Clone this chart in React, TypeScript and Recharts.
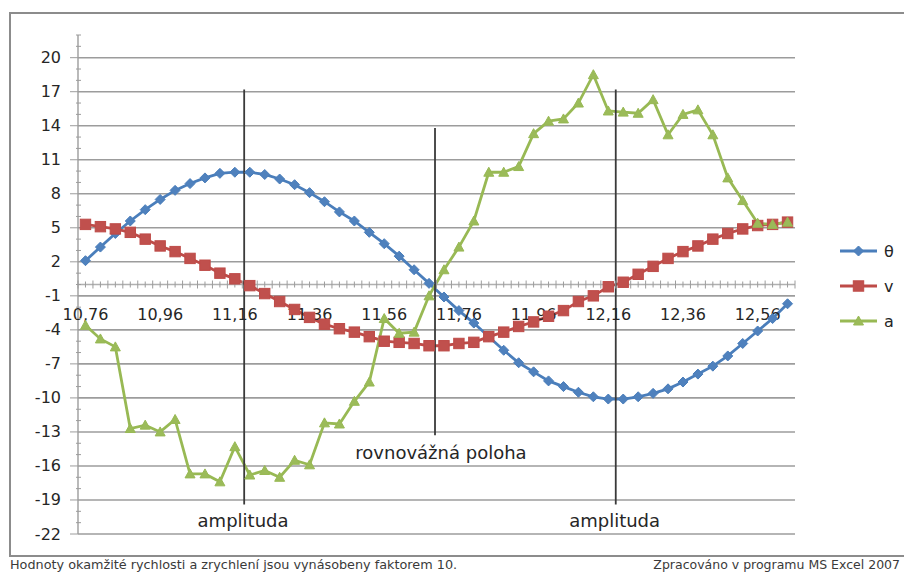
import React from 'react'
import { LineChart, Line, XAxis, YAxis, ReferenceLine, ReferenceDot } from 'recharts'

// time [s]
const TIME = [
  10.76, 10.8, 10.84, 10.88, 10.92, 10.96, 11, 11.04, 11.08, 11.12, 11.16, 11.2,
  11.24, 11.28, 11.32, 11.36, 11.4, 11.44, 11.48, 11.52, 11.56, 11.6, 11.64, 11.68,
  11.72, 11.76, 11.8, 11.84, 11.88, 11.92, 11.96, 12, 12.04, 12.08, 12.12, 12.16,
  12.2, 12.24, 12.28, 12.32, 12.36, 12.4, 12.44, 12.48, 12.52, 12.56, 12.6, 12.64,
]

// výchylka θ
const THETA = [
  2.1, 3.3, 4.5, 5.6, 6.6, 7.5, 8.3, 8.9, 9.4, 9.8, 9.9, 9.9,
  9.7, 9.3, 8.8, 8.1, 7.3, 6.4, 5.6, 4.6, 3.6, 2.5, 1.3, 0.1,
  -1.1, -2.3, -3.4, -4.6, -5.8, -6.9, -7.7, -8.5, -9.0, -9.5, -9.9, -10.1,
  -10.1, -9.9, -9.6, -9.2, -8.6, -7.9, -7.2, -6.3, -5.2, -4.1, -3.0, -1.7,
]

// rychlost v (x10)
const VELOCITY = [
  5.3, 5.1, 4.9, 4.6, 4.0, 3.4, 2.9, 2.3, 1.7, 1.0, 0.5, -0.1,
  -0.8, -1.5, -2.2, -2.9, -3.5, -3.9, -4.2, -4.6, -5.0, -5.1, -5.2, -5.4,
  -5.4, -5.2, -5.1, -4.6, -4.2, -3.7, -3.3, -2.8, -2.3, -1.5, -1.0, -0.2,
  0.2, 0.9, 1.6, 2.3, 2.9, 3.4, 4.0, 4.5, 4.9, 5.2, 5.3, 5.5,
]

// zrychlení a (x10)
const ACCEL = [
  -3.6, -4.8, -5.5, -12.7, -12.4, -13.0, -11.9, -16.7, -16.7, -17.4, -14.3, -16.8,
  -16.4, -17.0, -15.5, -15.9, -12.2, -12.3, -10.3, -8.6, -3.0, -4.3, -4.2, -1.0,
  1.3, 3.3, 5.6, 9.9, 9.9, 10.4, 13.3, 14.4, 14.6, 16.0, 18.5, 15.3,
  15.2, 15.1, 16.3, 13.2, 15.0, 15.4, 13.2, 9.4, 7.4, 5.4, 5.3, 5.5,
]

const X_LABELS = [10.76, 10.96, 11.16, 11.36, 11.56, 11.76, 11.96, 12.16, 12.36, 12.56]
const Y_MAJOR = [-22, -19, -16, -13, -10, -7, -4, -1, 2, 5, 8, 11, 14, 17, 20]

const X_DOMAIN: [number, number] = [10.74, 12.66]
const Y_DOMAIN: [number, number] = [-22, 22]

// every integer gets a minor tick on the value axis
const Y_ALL = Array.from({ length: 45 }, (_, i) => i - 22)
// category boundaries and centres on the time axis
const X_MARKS = Array.from({ length: 97 }, (_, i) => +(X_DOMAIN[0] + i * 0.02).toFixed(2))

const AMPLITUDE_1 = 11.185
const EQUILIBRIUM = 11.696
const AMPLITUDE_2 = 12.18

const data = TIME.map((t, i) => ({ t, theta: THETA[i], v: VELOCITY[i], a: ACCEL[i] }))

const BLUE = '#4a7ebb'
const RED = '#be4b48'
const GREEN = '#98b954'
const GRID = '#9c9c9c'
const FONT = '"DejaVu Sans", Verdana, sans-serif'

const fmt = (v: number) => v.toFixed(2).replace('.', ',')

const Diamond = ({ cx, cy, index }: any) => {
  if (cx == null || cy == null) return null
  const s = 5
  return (
    <path
      key={`th-${index}`}
      d={`M${cx},${cy - s}L${cx + s},${cy}L${cx},${cy + s}L${cx - s},${cy}Z`}
      fill="#4f81bd"
      stroke={BLUE}
      strokeWidth={1}
    />
  )
}

const Square = ({ cx, cy, index }: any) => {
  if (cx == null || cy == null) return null
  const s = 5.2
  return (
    <rect key={`v-${index}`} x={cx - s} y={cy - s} width={s * 2} height={s * 2} fill="#c0504d" stroke={RED} strokeWidth={1} />
  )
}

const Triangle = ({ cx, cy, index }: any) => {
  if (cx == null || cy == null) return null
  const s = 5
  return (
    <path
      key={`a-${index}`}
      d={`M${cx},${cy - s}L${cx + s},${cy + s * 0.8}L${cx - s},${cy + s * 0.8}Z`}
      fill="#9bbb59"
      stroke={GREEN}
      strokeWidth={1}
    />
  )
}

const YTick = ({ x, y, payload }: any) => {
  const v = payload.value
  const major = (v + 22) % 3 === 0
  return (
    <g>
      <line x1={major ? x - 8 : x - 2} x2={major ? x : x + 3} y1={y} y2={y} stroke={GRID} strokeWidth={1} />
      {major && (
        <text x={x - 17} y={y} textAnchor="end" dominantBaseline="central" fontSize={16} fontFamily={FONT} fill="#262626">
          {v}
        </text>
      )}
    </g>
  )
}

const LEGEND = [
  { name: 'θ', color: BLUE, Marker: Diamond },
  { name: 'v', color: RED, Marker: Square },
  { name: 'a', color: GREEN, Marker: Triangle },
]

export default function App() {
  return (
    <div
      style={{
        position: 'absolute',
        left: 0,
        top: 0,
        width: 904,
        height: 573,
        overflow: 'hidden',
        background: '#fff',
        fontFamily: FONT,
      }}
    >
      <div
        style={{
          position: 'absolute',
          left: 9,
          top: 12,
          width: 930,
          height: 541,
          border: '2px solid #8c8c8c',
        }}
      />
      <div style={{ position: 'absolute', left: 0, top: 0 }}>
        <LineChart width={904} height={573} data={data} margin={{ top: 35, right: 109, bottom: 39, left: 18 }}>
          <XAxis type="number" dataKey="t" domain={X_DOMAIN} allowDataOverflow hide />
          <YAxis
            type="number"
            domain={Y_DOMAIN}
            ticks={Y_ALL}
            interval={0}
            width={60}
            tickLine={false}
            tickSize={0}
            tickMargin={0}
            axisLine={{ stroke: GRID, strokeWidth: 1.4 }}
            tick={(p: any) => <YTick key={`yt-${p.index}`} {...p} />}
          />

          {Y_MAJOR.map((v) => (
            <ReferenceLine key={`g-${v}`} y={v} stroke={GRID} strokeWidth={1.6} />
          ))}

          {/* horizontal axis drawn through zero */}
          <ReferenceLine y={0} stroke="#b0b0b0" strokeWidth={1.3} />
          {X_MARKS.map((m, i) => (
            <ReferenceDot
              key={`xm-${m}`}
              x={m}
              y={0}
              r={0}
              shape={(p: any) => (
                <line
                  x1={p.cx}
                  x2={p.cx}
                  y1={p.cy - (i % 2 === 0 ? 4 : 3)}
                  y2={p.cy + (i % 2 === 0 ? 4 : 3)}
                  stroke={GRID}
                  strokeWidth={1}
                />
              )}
            />
          ))}
          {X_LABELS.map((v) => (
            <ReferenceDot
              key={`xl-${v}`}
              x={v}
              y={0}
              r={0}
              shape={(p: any) => (
                <text x={p.cx} y={p.cy + 30} textAnchor="middle" dominantBaseline="central" fontSize={16} fontFamily={FONT} fill="#262626">
                  {fmt(v)}
                </text>
              )}
            />
          ))}

          <Line dataKey="theta" name="θ" stroke={BLUE} strokeWidth={2.8} dot={Diamond} activeDot={false} isAnimationActive={false} />
          <Line dataKey="v" name="v" stroke={RED} strokeWidth={2.8} dot={Square} activeDot={false} isAnimationActive={false} />
          <Line dataKey="a" name="a" stroke={GREEN} strokeWidth={2.8} dot={Triangle} activeDot={false} isAnimationActive={false} />

          <ReferenceLine
            segment={[{ x: AMPLITUDE_1, y: 17.2 }, { x: AMPLITUDE_1, y: -19.4 }]}
            stroke="#3a3a3a"
            strokeWidth={1.8}
          />
          <ReferenceLine
            segment={[{ x: EQUILIBRIUM, y: 13.8 }, { x: EQUILIBRIUM, y: -13.3 }]}
            stroke="#3a3a3a"
            strokeWidth={1.8}
          />
          <ReferenceLine
            segment={[{ x: AMPLITUDE_2, y: 17.2 }, { x: AMPLITUDE_2, y: -19.4 }]}
            stroke="#3a3a3a"
            strokeWidth={1.8}
          />

          {[
            { x: AMPLITUDE_1 - 0.003, y: -20.8, text: 'amplituda' },
            { x: EQUILIBRIUM + 0.016, y: -14.8, text: 'rovnovážná poloha' },
            { x: AMPLITUDE_2 - 0.003, y: -20.8, text: 'amplituda' },
          ].map((n) => (
            <ReferenceDot
              key={`n-${n.x}`}
              x={n.x}
              y={n.y}
              r={0}
              shape={(p: any) => (
                <text x={p.cx} y={p.cy} textAnchor="middle" dominantBaseline="central" fontSize={18} fontFamily={FONT} fill="#262626">
                  {n.text}
                </text>
              )}
            />
          ))}
        </LineChart>
      </div>

      <svg style={{ position: 'absolute', left: 835, top: 235 }} width={69} height={110}>
        {LEGEND.map(({ name, color, Marker }, i) => {
          const cy = 16 + i * 35
          return (
            <g key={name}>
              <line x1={5} x2={42} y1={cy} y2={cy} stroke={color} strokeWidth={2.8} />
              <Marker cx={23.5} cy={cy} index={i} />
              <text x={49} y={cy} dominantBaseline="central" fontSize={16} fontFamily={FONT} fill="#262626">
                {name}
              </text>
            </g>
          )
        })}
      </svg>

      <div
        style={{
          position: 'absolute',
          left: 10,
          top: 557,
          fontSize: 12.8,
          color: '#3a3a3a',
          whiteSpace: 'nowrap',
        }}
      >
        Hodnoty okamžité rychlosti a zrychlení jsou vynásobeny faktorem 10.
      </div>
      <div
        style={{
          position: 'absolute',
          right: 4,
          top: 557,
          fontSize: 12.5,
          color: '#3a3a3a',
          whiteSpace: 'nowrap',
        }}
      >
        Zpracováno v programu MS Excel 2007
      </div>
    </div>
  )
}
